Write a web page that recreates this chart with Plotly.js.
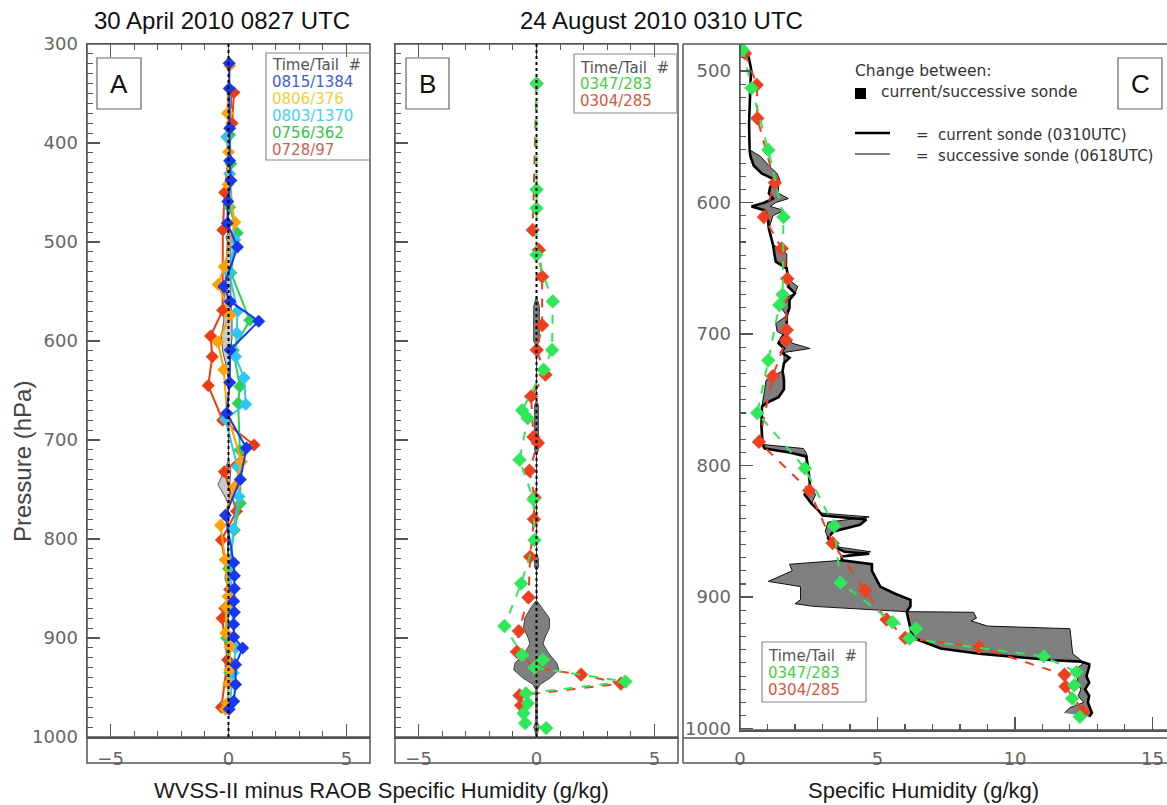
<!DOCTYPE html>
<html>
<head>
<meta charset="utf-8">
<script src="https://cdn.plot.ly/plotly-3.0.1.min.js"></script>
<style>html,body{margin:0;padding:0;background:#fff;}#chart{width:1167px;height:805px;}</style>
</head>
<body>
<div id="chart"></div>
<script>
// ---------------- Panel A data (WVSS-II minus RAOB, g/kg) ----------------
const blueP  = [319.5,345,385,418,438,459,481,505,545,560,580,609,642,673,708,740,776,824,837,850,863,874,886,899,910,927,947,964,972];
const blueQ  = [0.03,0.03,0.05,0.05,0.1,-0.03,-0.05,0.38,-0.2,0.07,1.28,0.07,0.05,-0.08,0.76,0.5,-0.13,0.22,0.25,0.25,0.22,0.25,0.22,0.22,0.6,0.3,0.3,0.22,0.03];
const orangeP = [322,370,409,442,480,525,543,574,601,629,673,722,747,786,821,858,869,895,909,932,946,966,972];
const orangeQ = [0.05,-0.04,0.0,-0.02,0.27,-0.18,-0.44,0.07,-0.45,-0.2,-0.06,0.55,0.27,-0.34,-0.14,-0.02,-0.1,-0.12,0.07,0.05,0.0,-0.05,-0.13];
const cyanP  = [394,431,498,531,570,592,616,637,664,679,727,757,790,824,860,910,935,968];
const cyanQ  = [-0.08,0.05,0.27,0.03,0.38,0.35,0.3,0.66,0.73,-0.13,0.38,0.45,0.2,0.1,0.1,0.3,0.2,0.05];
const greenAP = [392,421,465,491,531,579,609,646,663,710,764,791,830,870,900,935,970];
const greenAQ = [0.05,0.1,0.05,0.37,0.1,0.9,0.2,0.48,0.41,0.48,0.5,0.25,0.0,-0.05,-0.08,0.05,-0.05];
const redAP  = [349,380,450,488,569,595,616,645,680,705,732,772,801,851,870,880,922,970];
const redAQ  = [0.23,0.15,-0.16,-0.24,-0.25,-0.76,-0.69,-0.86,-0.25,1.08,-0.18,0.34,-0.3,0.05,-0.16,-0.27,-0.04,-0.3];
// change between sondes (shaded, A)
const fillAP = [340,350,365,370,490,495,500,540,560,580,595,610,625,640,720,730,745,755,765,820,840,850,915,925,940,950];
const fillAL = [0,-0.05,-0.05,0,0,-0.1,-0.05,-0.15,-0.2,-0.2,-0.3,-0.25,-0.1,0,0,-0.15,-0.45,-0.2,0,-0.05,-0.15,0,0,-0.15,-0.1,0];
const fillAR = [0,0.12,0.12,0,0,0.1,0.1,0.1,0.1,0.15,0.15,0.1,0.05,0,0,0.1,0.05,0.05,0,0.02,0,0,0,0.05,0.1,0];

// ---------------- Panel B data ----------------
const greenBP = [340,447,466,513,560,609,629,670,678,720,760,801,845,888,917,922,930,944,956,966,976,986,991];
const greenBQ = [0,0,0,0,0.69,0.66,0.3,-0.61,-0.37,-0.72,-0.13,-0.08,-0.65,-1.36,-0.61,0.27,-0.08,3.77,-0.44,-0.37,-0.55,-0.48,0.41];
const redBP  = [340,488,508,535,584,609,634,656,697,703,731,758,780,818,859,893,914,930,937,946,958,968];
const redBQ  = [0,-0.16,0.1,0.24,0.24,0.01,0.38,-0.23,-0.13,0.06,-0.3,-0.08,-0.11,-0.27,-0.34,-0.75,-0.83,-0.05,1.89,3.58,-0.72,-0.65];
const fillBP = [555,565,600,605,660,665,710,715,815,820,828,832,862,868,880,890,900,906,915,925,932,940,947,952,985,990,995,1000];
const fillBL = [0,-0.12,-0.12,0,0,-0.08,-0.08,0,0,-0.08,-0.08,0,0,-0.2,-0.5,-0.55,-0.35,-0.28,-0.5,-0.9,-0.97,-0.6,-0.15,-0.03,-0.03,-0.12,-0.05,0];
const fillBR = [0,0.12,0.12,0,0,0.08,0.08,0,0,0.08,0.08,0,0,0.2,0.55,0.55,0.35,0.28,0.5,0.85,0.95,0.6,0.15,0.03,0.03,0.12,0.05,0];

// ---------------- Panel C data (specific humidity, g/kg) ----------------
const curP = [480,488,498,520,540,560,565,572,578,583,588,593,597,600,603,606,610,620,632,639,645,650,658,664,669,674,680,686,692,698,703,707,711,714,718,722,728,735,742,748,752,755,770,780,784,787,790,793,805,816,822,829,834,838,841,845,850,855,858,862,863,865.5,867,869,872,875,880,888,892,897,902,907,911,924,931,939,943,948,949,951,953,960,965,970,975,980,985,988,991];
const curQ = [0.05,0.3,0.4,0.36,0.33,0.35,0.38,0.5,0.8,1.3,1.1,1.05,1.2,0.9,0.42,0.9,1.0,1.05,1.2,1.25,1.3,1.7,1.75,1.75,2.0,1.8,1.8,1.7,1.7,1.7,1.5,1.4,1.6,1.5,1.8,1.6,1.55,1.6,1.6,1.4,1.0,0.8,0.78,0.8,0.82,0.9,1.8,2.4,2.5,2.55,2.35,2.6,2.85,3.0,4.6,4.36,3.4,3.2,3.3,3.5,3.55,3.8,4.7,3.7,3.7,4.8,4.8,5.0,5.1,5.6,6.2,6.2,6.06,6.2,6.3,7.3,8.7,11.4,12.4,12.7,12.7,12.6,12.7,12.55,12.7,12.65,12.75,12.8,12.7];
const sucP = [480,488,498,520,540,560,565,572,578,583,588,593,597,600,603,606,610,620,632,639,645,650,658,664,669,674,680,686,692,698,703,707,711,714,718,722,728,735,742,748,752,755,770,780,784,787,790,793,805,816,822,829,834,836,839,843,850,855,858,862,865.5,867,869,872,875,880,888,892,897,902,905,907,911,911.5,916,918,922,924,943,948,951,955,960,965,970,975,980,984,988];
const sucQ = [0.05,0.3,0.4,0.36,0.33,0.35,0.75,1.05,1.35,1.45,1.4,1.4,1.76,1.3,1.1,1.6,1.2,1.05,1.2,1.7,1.7,1.7,1.75,2.1,2.0,1.5,1.5,1.7,1.3,1.35,1.8,1.9,2.55,1.6,1.6,1.6,1.55,0.95,0.9,0.85,0.8,0.8,0.78,0.8,0.85,2.3,2.4,2.45,2.5,2.55,2.75,2.6,2.85,2.9,4.7,3.2,3.1,3.2,3.5,3.6,4.75,4.2,3.7,3.7,1.8,1.9,1.03,2.2,2.2,2.2,2.0,2.67,6.0,8.5,8.6,8.4,9.0,12.0,12.1,12.4,12.45,12.2,12.3,12.25,12.4,12.3,12.5,12.0,11.8];
const greenCP = [484,513,560,611,670,678,720,760,802,846,889,919,924,931.5,945,957,967,977,991];
const greenCQ = [0.1,0.42,1.03,1.58,1.55,1.43,1.03,0.63,2.36,3.42,3.66,5.55,6.4,6.16,11.05,12.24,12.16,12.08,12.36];
const redCP  = [486.6,510.6,536,585,611,635,658,697,704.6,732,782,819,859,895,917,931,938,959,968,987];
const redCQ  = [0.18,0.61,0.63,1.27,0.87,1.52,1.72,1.7,1.67,1.19,0.69,2.52,3.37,4.55,5.33,6.01,8.7,11.8,11.84,12.48];

// legend texts
const legendA = [["Time/Tail  #","#555"],["0815/1384","#3d5ed8"],["0806/376","#f2cf3a"],["0803/1370","#3fd3f2"],["0756/362","#3cc04c"],["0728/97","#c8644e"]];
const legendB = [["Time/Tail  #","#555"],["0347/283","#45d045"],["0304/285","#d2583c"]];

// ---------------- helpers ----------------
const W = 1167, H = 805;
const fx = x => x / W;
const fy = y => 1 - y / H;
const polyX = (l, r) => l.concat(r.slice().reverse());
const polyY = p => p.concat(p.slice().reverse());

const traces = [];
// A
traces.push({x: polyX(fillAL, fillAR), y: polyY(fillAP), xaxis:'x', yaxis:'y', mode:'lines', fill:'toself',
  fillcolor:'#c9c9c9', line:{color:'#555', width:1}, hoverinfo:'skip'});
const aSeries = [[redAP,redAQ,'#f03a12'],[greenAP,greenAQ,'#2fd04e'],[cyanP,cyanQ,'#2ec6f5'],[orangeP,orangeQ,'#ffa200'],[blueP,blueQ,'#1538f0']];
aSeries.forEach(s => traces.push({x:s[1], y:s[0], xaxis:'x', yaxis:'y', mode:'lines+markers',
  line:{color:s[2], width:2}, marker:{symbol:'diamond', size:10, color:s[2]}}));
// B
traces.push({x: polyX(fillBL, fillBR), y: polyY(fillBP), xaxis:'x2', yaxis:'y2', mode:'lines', fill:'toself',
  fillcolor:'#7f7f7f', line:{color:'#444', width:1}, hoverinfo:'skip'});
traces.push({x:redBQ, y:redBP, xaxis:'x2', yaxis:'y2', mode:'lines+markers',
  line:{color:'#ee4020', width:2, dash:'dash'}, marker:{symbol:'diamond', size:11, color:'#ee4020'}});
traces.push({x:greenBQ, y:greenBP, xaxis:'x2', yaxis:'y2', mode:'lines+markers',
  line:{color:'#2ee85a', width:2, dash:'dash'}, marker:{symbol:'diamond', size:11, color:'#2ee85a'}});
// C
traces.push({x: curQ.concat(sucQ.slice().reverse()), y: curP.concat(sucP.slice().reverse()), xaxis:'x3', yaxis:'y3',
  mode:'lines', fill:'toself', fillcolor:'#7f7f7f', line:{width:0}, hoverinfo:'skip'});
traces.push({x:sucQ, y:sucP, xaxis:'x3', yaxis:'y3', mode:'lines', line:{color:'#111', width:1}});
traces.push({x:curQ, y:curP, xaxis:'x3', yaxis:'y3', mode:'lines', line:{color:'#000', width:2.6}});
traces.push({x:redCQ, y:redCP, xaxis:'x3', yaxis:'y3', mode:'lines+markers',
  line:{color:'#ee4020', width:2, dash:'dash'}, marker:{symbol:'diamond', size:11, color:'#ee4020'}});
traces.push({x:greenCQ, y:greenCP, xaxis:'x3', yaxis:'y3', mode:'lines+markers',
  line:{color:'#2ee85a', width:2, dash:'dash'}, marker:{symbol:'diamond', size:11, color:'#2ee85a'}});

const tickFont = {family:'DejaVu Sans, sans-serif', size:18, color:'#666'};
const axC = '#555';
function xAx(domain, anchor, range, mirror, standoff){
  return {domain, anchor, range, autorange:false, tickmode:'linear', tick0:0, dtick:5,
    ticks:'inside', ticklen:13, tickwidth:1.3, tickcolor:axC,
    minor:{ticks:'inside', dtick:1, ticklen:6, tickwidth:1.1, tickcolor:axC},
    showline:true, linecolor:axC, linewidth:1.5, mirror, showgrid:false, zeroline:false,
    tickfont:tickFont, ticklabelstandoff:standoff};
}
function yAx(domain, anchor, range, labels, minorD){
  return {domain, anchor, range, autorange:false, tickmode:'linear', tick0:300, dtick:100,
    ticks:'inside', ticklen:13, tickwidth:1.3, tickcolor:axC,
    minor:{ticks:'inside', dtick:minorD, ticklen:6, tickwidth:1.1, tickcolor:axC},
    showline:true, linecolor:axC, linewidth:1.5, showgrid:false, zeroline:false,
    showticklabels:labels, tickfont:tickFont, ticklabelstandoff:4};
}

const big = 'Liberation Sans, Arial, sans-serif';
const hersh = 'DejaVu Sans, sans-serif';
const annotations = [
  {text:'30 April 2010 0827 UTC', x:fx(222), y:fy(21), font:{family:big, size:24, color:'#111'}},
  {text:'24 August 2010 0310 UTC', x:fx(661), y:fy(21), font:{family:big, size:24, color:'#111'}},
  {text:'WVSS-II minus RAOB Specific Humidity (g/kg)', x:fx(381), y:fy(790), font:{family:big, size:22, color:'#1a1a1a'}},
  {text:'Specific Humidity (g/kg)', x:fx(923), y:fy(790), font:{family:big, size:22, color:'#1a1a1a'}},
  {text:'Pressure (hPa)', x:fx(22), y:fy(462), textangle:-90, font:{family:big, size:24, color:'#444'}},
  {text:'A', x:fx(119), y:fy(84), font:{family:big, size:26, color:'#111'}},
  {text:'B', x:fx(427.5), y:fy(84), font:{family:big, size:26, color:'#111'}},
  {text:'C', x:fx(1140), y:fy(84), font:{family:big, size:26, color:'#111'}},
  {text:'Change between:', x:fx(853), y:fy(71), xanchor:'left', font:{family:hersh, size:15.5, color:'#333'}},
  {text:'current/successive sonde', x:fx(879), y:fy(92), xanchor:'left', font:{family:hersh, size:15.5, color:'#333'}},
  {text:'=  current sonde (0310UTC)', x:fx(914), y:fy(135), xanchor:'left', font:{family:hersh, size:15, color:'#333'}},
  {text:'=  successive sonde (0618UTC)', x:fx(914), y:fy(156), xanchor:'left', font:{family:hersh, size:15, color:'#333'}}
];
legendA.forEach((l,i) => annotations.push({text:l[0], x:fx(270), y:fy(65 + i*17), xanchor:'left', font:{family:hersh, size:15, color:l[1]}}));
legendB.forEach((l,i) => annotations.push({text:l[0], x:fx(578), y:fy(68 + i*16.5), xanchor:'left', font:{family:hersh, size:15, color:l[1]}}));
legendB.forEach((l,i) => annotations.push({text:l[0], x:fx(766), y:fy(656 + i*16.8), xanchor:'left', font:{family:hersh, size:15, color:l[1]}}));
annotations.forEach(a => { a.xref='paper'; a.yref='paper'; a.showarrow=false; if(!a.xanchor) a.xanchor='center'; a.yanchor='middle'; });

const ln = (x0,y0,x1,y1,w,c) => ({type:'line', xref:'paper', yref:'paper', x0:fx(x0), y0:fy(y0), x1:fx(x1), y1:fy(y1), line:{color:c||axC, width:w||1.5}, layer:'above'});
const box = (x0,y0,x1,y1,w,c) => ({type:'rect', xref:'paper', yref:'paper', x0:fx(x0), y0:fy(y0), x1:fx(x1), y1:fy(y1), line:{color:c||axC, width:w||1.5}, fillcolor:'rgba(0,0,0,0)', layer:'above'});
const shapes = [
  box(87,44,370,763), ln(87,737,370,737),
  box(395,44,678,763), ln(395,737,678,737),
  ln(683,44,1167,44), ln(683,44,683,763), ln(683,738,1167,738), ln(683,763,1167,763),
  ln(740,44,740,730), ln(740,730,1167,730),
  box(97,58,141,109,1.2,'#666'), box(406,58,449,109,1.2,'#666'), box(1118,58,1162,109,1.2,'#666'),
  box(266,53,370,160,1.2,'#888'), box(574,54,677,113,1.2,'#888'), box(762,642,866,702,1.2,'#888'),
  {type:'rect', xref:'paper', yref:'paper', x0:fx(855), y0:fy(99), x1:fx(866), y1:fy(88), fillcolor:'#000', line:{width:0}},
  ln(855,133,890,133,2.6,'#000'), ln(855,154,890,154,1,'#000'),
  {type:'line', xref:'x', yref:'y', x0:0, x1:0, y0:300, y1:1000, line:{color:'#000', width:2, dash:'dot'}, layer:'above'},
  {type:'line', xref:'x2', yref:'y2', x0:0, x1:0, y0:300, y1:1000, line:{color:'#000', width:2, dash:'dot'}, layer:'above'}
];

const yDomAB = [fy(737), fy(44)];
const layout = {
  width:W, height:H, margin:{l:0,r:0,t:0,b:0}, paper_bgcolor:'#fff', plot_bgcolor:'rgba(0,0,0,0)',
  showlegend:false,
  xaxis: xAx([fx(87), fx(370)], 'y', [-6,6], 'ticks', 5),
  yaxis: yAx(yDomAB, 'x', [1000,300], true, 10),
  xaxis2: xAx([fx(395), fx(678)], 'y2', [-6,6], 'ticks', 5),
  yaxis2: yAx(yDomAB, 'x2', [1000,300], false, 10),
  xaxis3: xAx([fx(740), 1], 'y3', [0,15.53], false, 12),
  yaxis3: yAx([fy(730), fy(44)], 'x3', [1001,479.5], true, 10),
  annotations, shapes
};
Plotly.newPlot('chart', traces, layout, {staticPlot:true, displayModeBar:false});
</script>
</body>
</html>
